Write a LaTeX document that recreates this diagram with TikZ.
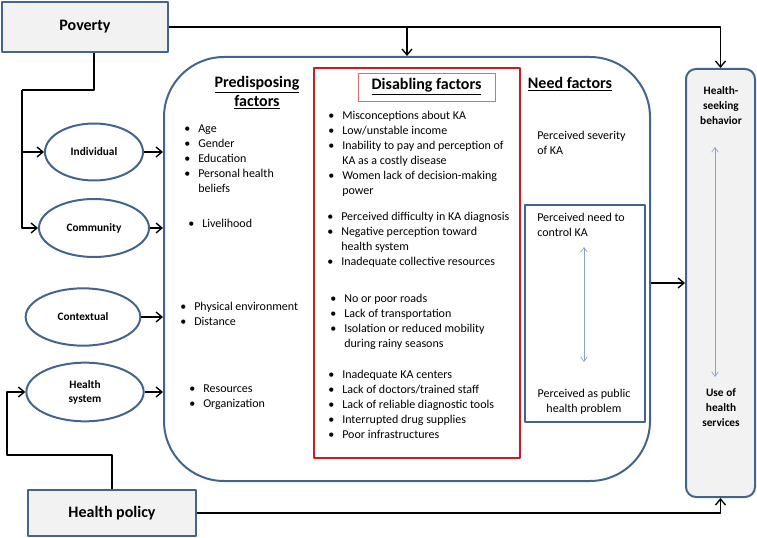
\documentclass[tikz,border=0pt]{standalone}
\usepackage{fontspec}
\setmainfont{Carlito}
\usepackage{tikz}
\usetikzlibrary{arrows, arrows.meta, positioning, shapes}
\definecolor{frameblue}{HTML}{41658F}
\definecolor{boxgray}{HTML}{F2F2F2}
\definecolor{framered}{HTML}{E2121B}
\definecolor{titlered}{HTML}{E46A6A}
\definecolor{arrowblue}{HTML}{86A2D2}
\newcommand{\bl}[1]{\makebox[10.5pt][l]{\textbullet}#1}
\newcommand{\cn}[1]{\hspace*{10.5pt}#1}

\begin{document}
\begin{tikzpicture}[x=0.75pt,y=-0.75pt,>={Straight Barb[length=4.5pt,width=7.5pt]},line join=bevel,
        every node/.style={inner sep=0pt},
        conn/.style={draw=black,line width=1pt},
        frame/.style={draw=frameblue,line width=1.5pt},
        graybox/.style={frame,fill=boxgray,font=\bfseries\fontsize{12}{14}\selectfont},
        factor/.style={frame,ellipse,align=center,font=\bfseries\fontsize{8.5}{10.5}\selectfont},
        heading/.style={align=center,font=\bfseries\fontsize{12}{14.25}\selectfont},
        items/.style={anchor=north west,align=left,font=\fontsize{9}{11.25}\selectfont},
        twoway/.style={{Straight Barb[length=3.5pt,width=5pt]}-{Straight Barb[length=3.5pt,width=5pt]},draw=arrowblue,line width=.5pt}]
        \useasboundingbox (0,0) rectangle (757,538);

        \node[graybox,minimum width=124.5pt,minimum height=37.5pt] (poverty) at (85,27) {Poverty};
        \node[graybox,minimum width=126pt,minimum height=34.5pt] (policy) at (112,513) {Health policy};

        \node[factor,minimum width=73.5pt,minimum height=42.75pt] (individual) at (94,152) {Individual};
        \node[factor,minimum width=82.5pt,minimum height=43.5pt] (community) at (94,228) {Community};
        \node[factor,minimum width=86pt,minimum height=43pt] (contextual) at (83,317) {Contextual};
        \node[factor,minimum width=88pt,minimum height=44pt] (system) at (85,392) {Health\\system};

        \node[frame,rounded corners=45pt,minimum width=364.5pt,minimum height=318pt] (model) at (407,269) {};
        \node[draw=framered,line width=1.5pt,minimum width=154.5pt,minimum height=292.5pt] (disabling) at (417,263) {};
        \node[frame,minimum width=90pt,minimum height=162.75pt] (needbox) at (585,313.5) {};
        \node[frame,fill=boxgray,rounded corners=7.5pt,minimum width=51.75pt,minimum height=321pt] (outcome) at (720.5,283) {};

        \node[heading] (predtitle) at (257,93) {\underline{Predisposing}\\\underline{factors}};
        \node[heading,draw=titlered,line width=.6pt,minimum width=102.75pt,minimum height=21pt] (distitle) at (426.5,87) {\underline{Disabling factors}};
        \node[heading] (needtitle) at (570,84) {\underline{Need factors}};

        \node[items] (age) at (184,124.5) {\bl{Age}\\\bl{Gender}\\\bl{Education}\\\bl{Personal health}\\\cn{beliefs}};
        \node[items] (livelihood) at (188,218.5) {\bl{Livelihood}};
        \node[items] (physical) at (180,301.5) {\bl{Physical environment}\\\bl{Distance}};
        \node[items] (resources) at (189,384.5) {\bl{Resources}\\\bl{Organization}};

        \node[items] (misconceptions) at (328,111) {\bl{Misconceptions about KA}\\\bl{Low/unstable income}\\\bl{Inability to pay and perception of}\\\cn{KA as a costly disease}\\\bl{Women lack of decision-making}\\\cn{power}};
        \node[items] (difficulty) at (327,212) {\bl{Perceived difficulty in KA diagnosis}\\\bl{Negative perception toward}\\\cn{health system}\\\bl{Inadequate collective resources}};
        \node[items] (roads) at (330,294) {\bl{No or poor roads}\\\bl{Lack of transportation}\\\bl{Isolation or reduced mobility}\\\cn{during rainy seasons}};
        \node[items] (centers) at (328,370) {\bl{Inadequate KA centers}\\\bl{Lack of doctors/trained staff}\\\bl{Lack of reliable diagnostic tools}\\\bl{Interrupted drug supplies}\\\bl{Poor infrastructures}};

        \node[items] (severity) at (537,131) {Perceived severity\\of KA};
        \node[items] (control) at (537,213) {Perceived need to\\control KA};
        \node[align=center,font=\fontsize{9}{11.25}\selectfont] (public) at (584,402) {Perceived as public\\health problem};

        \node[align=center,font=\bfseries\fontsize{8.5}{11.25}\selectfont] (behavior) at (721,106) {Health-\\seeking\\behavior};
        \node[align=center,font=\bfseries\fontsize{8.5}{11.25}\selectfont] (use) at (721,408) {Use of\\health\\services};

        \coordinate (split) at (22,90);
        \coordinate (turn) at (7,455);
        \coordinate (ctltop) at (584,247);
        \coordinate (ctlbot) at (584,362);
        \coordinate (outtop) at (715,147);
        \coordinate (outbot) at (715,377);

        \draw[conn,->] (poverty.east) -| (outcome.north);
        \draw[conn,->] (poverty.east -| model.north) -- (model.north);
        \draw[conn] ([xshift=6.75pt]poverty.south) |- (split);
        \draw[conn,->] (split) |- (individual.west);
        \draw[conn,->] (split) |- (community.west);
        \draw[conn,->] (policy.north) |- (turn) |- (system.west);
        \draw[conn,->] (policy.east) -| (outcome.south);
        \draw[conn,->] (individual.east) -- (individual.east -| model.west);
        \draw[conn,->] (community.east) -- (community.east -| model.west);
        \draw[conn,->] (contextual.east) -- (contextual.east -| model.west);
        \draw[conn,->] (system.east) -- (system.east -| model.west);
        \draw[conn,->] (model.east |- outcome.west) -- (outcome.west);
        \draw[twoway] (ctltop) -- (ctlbot);
        \draw[twoway] (outtop) -- (outbot);
\end{tikzpicture}
\end{document}
